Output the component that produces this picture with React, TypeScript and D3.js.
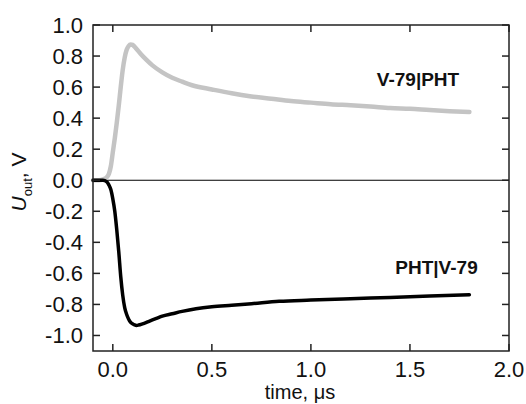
import React from "react";
import * as d3 from "d3";

const xTicks = [0.0, 0.5, 1.0, 1.5, 2.0];
const yTicks = [1.0, 0.8, 0.6, 0.4, 0.2, 0.0, -0.2, -0.4, -0.6, -0.8, -1.0];

const greyTime = [-0.1, -0.07, -0.05, -0.03, -0.02, -0.01, 0.0, 0.01, 0.02, 0.03, 0.04, 0.05, 0.06, 0.07, 0.08, 0.09, 0.1, 0.12, 0.14, 0.17, 0.2, 0.25, 0.3, 0.35, 0.4, 0.5, 0.6, 0.7, 0.8, 0.9, 1.0, 1.1, 1.2, 1.3, 1.4, 1.5, 1.6, 1.7, 1.8];
const greyValues = [0.0, 0.0, 0.005, 0.02, 0.04, 0.09, 0.18, 0.27, 0.37, 0.48, 0.6, 0.71, 0.79, 0.84, 0.865, 0.875, 0.872, 0.845, 0.815, 0.775, 0.74, 0.695, 0.66, 0.635, 0.612, 0.585, 0.56, 0.54, 0.525, 0.51, 0.5, 0.49, 0.483, 0.475, 0.465, 0.46, 0.452, 0.445, 0.44];

const blackTime = [-0.1, -0.05, -0.03, -0.02, -0.01, 0.0, 0.01, 0.02, 0.03, 0.04, 0.05, 0.06, 0.07, 0.08, 0.09, 0.1, 0.11, 0.12, 0.13, 0.15, 0.18, 0.22, 0.25, 0.3, 0.35, 0.42, 0.5, 0.6, 0.7, 0.84, 1.0, 1.2, 1.4, 1.6, 1.8];
const blackValues = [0, 0, -0.01, -0.03, -0.06, -0.12, -0.2, -0.32, -0.46, -0.62, -0.74, -0.82, -0.865, -0.895, -0.915, -0.925, -0.932, -0.935, -0.933, -0.925, -0.91, -0.89, -0.875, -0.86, -0.845, -0.828, -0.815, -0.805, -0.795, -0.78, -0.772, -0.763, -0.755, -0.746, -0.738];

const seriesLabels = ["V-79|PHT", "PHT|V-79"];

const W = 526, H = 404;
const left = 93, right = 509, top = 25, bottom = 351;
const FONT = "'Liberation Sans', Arial, sans-serif";

export default function App() {
  const x = d3.scaleLinear().domain([-0.1, 2.0]).range([left, right]);
  const y = d3.scaleLinear().domain([-1.1, 1.0]).range([bottom, top]);
  const line = d3.line<[number, number]>().x(d => x(d[0])).y(d => y(d[1])).curve(d3.curveMonotoneX);
  const greyPts = greyTime.map((t, i) => [t, greyValues[i]] as [number, number]);
  const blackPts = blackTime.map((t, i) => [t, blackValues[i]] as [number, number]);
  const tl = 7;
  return (
    <div style={{ position: "absolute", left: 0, top: 0 }}>
      <svg width={W} height={H} style={{ display: "block", background: "#fff" }} fontFamily={FONT}>
        <line x1={left} x2={right} y1={y(0)} y2={y(0)} stroke="#000" strokeWidth={1.2} />
        <path d={line(greyPts) || ""} fill="none" stroke="#c4c4c4" strokeWidth={4.5} strokeLinejoin="round" strokeLinecap="round" />
        <path d={line(blackPts) || ""} fill="none" stroke="#000" strokeWidth={3.5} strokeLinejoin="round" strokeLinecap="round" />
        <rect x={left} y={top} width={right - left} height={bottom - top} fill="none" stroke="#222" strokeWidth={1.5} />
        {xTicks.map(t => (
          <g key={"x" + t}>
            <line x1={x(t)} x2={x(t)} y1={bottom} y2={bottom - tl} stroke="#222" strokeWidth={1.5} />
            <line x1={x(t)} x2={x(t)} y1={top} y2={top + tl} stroke="#222" strokeWidth={1.5} />
            <text x={x(t)} y={377} textAnchor="middle" fontSize={22} fill="#111">{t.toFixed(1)}</text>
          </g>
        ))}
        {yTicks.map(t => (
          <g key={"y" + t}>
            <line x1={left} x2={left + tl} y1={y(t)} y2={y(t)} stroke="#222" strokeWidth={1.5} />
            <line x1={right} x2={right - tl} y1={y(t)} y2={y(t)} stroke="#222" strokeWidth={1.5} />
            <text x={83} y={y(t)} dy="0.36em" textAnchor="end" fontSize={22} fill="#111">{t.toFixed(1)}</text>
          </g>
        ))}
        <text x={300} y={399} textAnchor="middle" fontSize={20} fill="#111">time, μs</text>
        <text transform={`translate(26,182) rotate(-90)`} textAnchor="middle" fontSize={21} fill="#111">
          <tspan fontStyle="italic">U</tspan>
          <tspan dy={6} fontSize={13}>out</tspan>
          <tspan dy={-6}>, V</tspan>
        </text>
        <text x={418} y={86} textAnchor="middle" fontSize={19} fontWeight="bold" fill="#111">{seriesLabels[0]}</text>
        <text x={436.5} y={274} textAnchor="middle" fontSize={19} fontWeight="bold" fill="#111">{seriesLabels[1]}</text>
      </svg>
    </div>
  );
}
